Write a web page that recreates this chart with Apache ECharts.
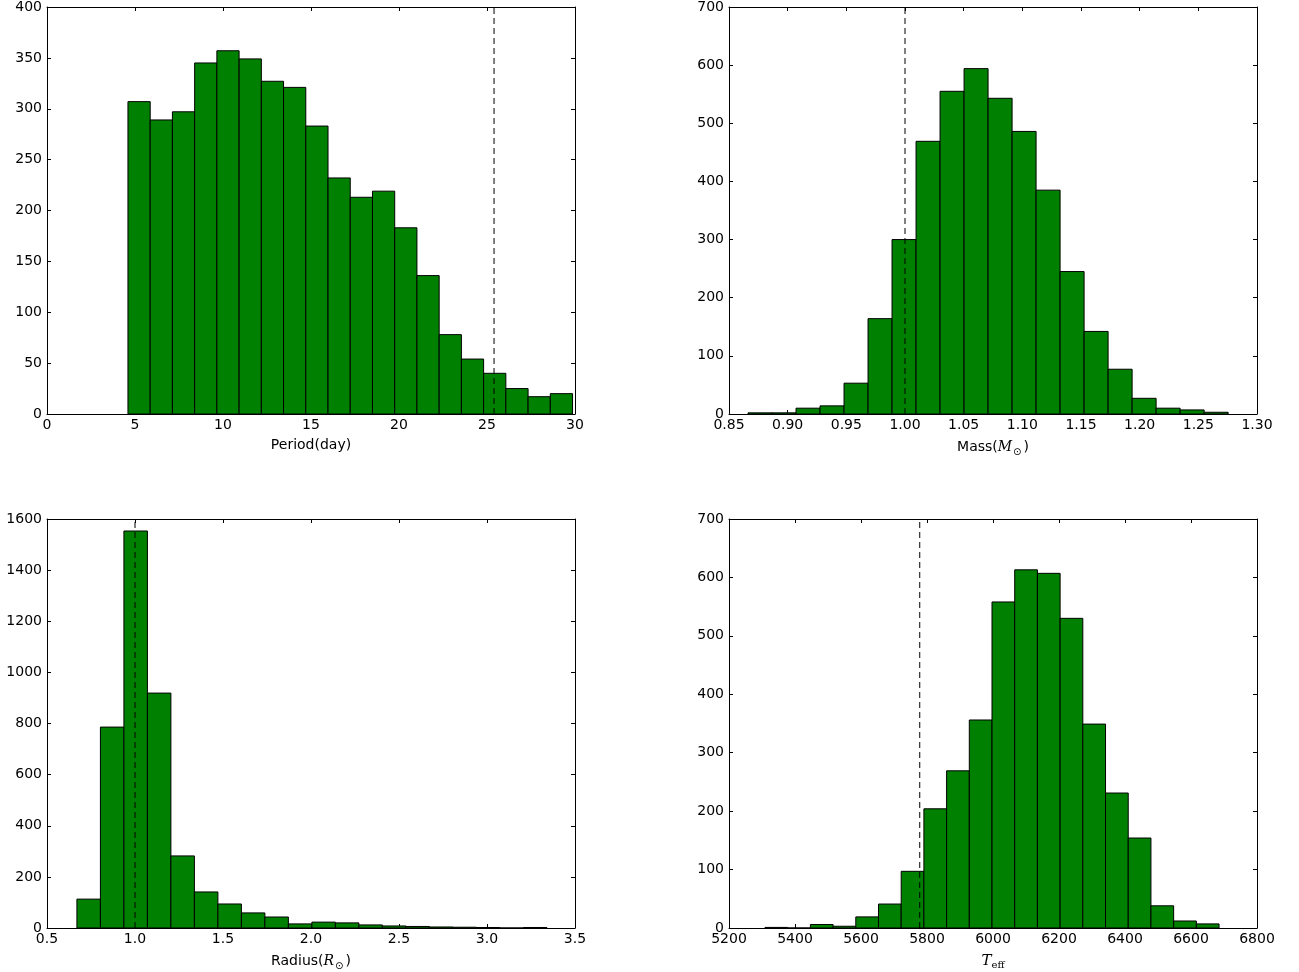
<!DOCTYPE html>
<html>
<head>
<meta charset="utf-8">
<script src="https://cdn.jsdelivr.net/npm/echarts@6/dist/echarts.min.js"></script>
<style>html,body{margin:0;padding:0;background:#fff}#c{width:1299px;height:972px}</style>
</head>
<body>
<div id="c"></div>
<script>
// ---- data ----
const periodCounts = [307,289,297,345,357,349,327,321,283,232,213,219,183,136,78,54,40,25,17,20];
const periodBinStart = 4.6, periodBinWidth = 1.263, periodRef = 25.4;
const massCounts = [2,2,10,14,53,164,300,469,555,594,543,486,385,245,142,77,27,10,7,3];
const massBinStart = 0.8662, massBinWidth = 0.02046, massRef = 1.0;
const radiusCounts = [113,786,1553,919,282,141,94,59,43,16,23,20,12,8,6,4,3,2,0,2];
const radiusBinStart = 0.67, radiusBinWidth = 0.1335, radiusRef = 1.0;
const teffCounts = [1,0,6,3,19,41,97,204,269,356,558,613,607,530,349,231,154,38,12,7];
const teffBinStart = 5309, teffBinWidth = 68.8, teffRef = 5778;

const periodTicks = {min:0, max:30, interval:5};
const massTicks = {min:0.85, max:1.30, interval:0.05};
const radiusTicks = {min:0.5, max:3.5, interval:0.5};
const teffTicks = {min:5200, max:6800, interval:200};
const yTicks = [{max:400, interval:50},{max:700, interval:100},{max:1600, interval:200},{max:700, interval:100}];

function bins(start, width, counts){
  return counts.map((c,i)=>[start+i*width, start+(i+1)*width, c]);
}
const panels = [
  {data: bins(periodBinStart, periodBinWidth, periodCounts), ref: periodRef, x: periodTicks, dec: 0,
   name: 'Period(day)'},
  {data: bins(massBinStart, massBinWidth, massCounts), ref: massRef, x: massTicks, dec: 2,
   name: 'Mass({i|M}{s|⊙})'},
  {data: bins(radiusBinStart, radiusBinWidth, radiusCounts), ref: radiusRef, x: radiusTicks, dec: 1,
   name: 'Radius({i|R}{s|⊙})'},
  {data: bins(teffBinStart, teffBinWidth, teffCounts), ref: teffRef, x: teffTicks, dec: 0,
   name: '{t|T}{e|eff}'}
];
const gridPos = [
  {left:47, top:5, width:528, height:409},
  {left:729, top:5, width:528, height:409},
  {left:47, top:519, width:528, height:409},
  {left:729, top:519, width:528, height:409}
];
const font = 'DejaVu Sans';
const axisLine = {show:true, onZero:false, lineStyle:{color:'#000', width:1}};
const tick = {show:true, inside:true, length:4, lineStyle:{color:'#000', width:1}};
const grids = [], xAxes = [], yAxes = [], series = [];
panels.forEach((p, k) => {
  grids.push(Object.assign({containLabel:false}, gridPos[k]));
  const xBase = {type:'value', gridIndex:k, min:p.x.min, max:p.x.max, interval:p.x.interval,
    splitLine:{show:false}, axisLine: axisLine, axisTick: tick};
  xAxes.push(Object.assign({}, xBase, {position:'bottom',
    axisLabel:{color:'#000', fontFamily:font, fontSize:14, margin:4,
      formatter: v => Number(v).toFixed(p.dec)},
    name: p.name, nameLocation:'middle', nameGap:24,
    nameTextStyle:{color:'#000', fontFamily:font, fontSize:14,
      rich:{
        i:{fontFamily:'DejaVu Serif', fontStyle:'italic', fontSize:14, color:'#000'},
        s:{fontFamily:font, fontSize:10, color:'#000', padding:[9,2,0,1]},
        t:{fontFamily:'DejaVu Serif', fontStyle:'italic', fontSize:15, color:'#000'},
        e:{fontFamily:'DejaVu Serif', fontSize:10, color:'#000', padding:[8,0,0,0]}
      }}
  }));
  xAxes.push(Object.assign({}, xBase, {position:'top', axisLabel:{show:false}}));
  const yBase = {type:'value', gridIndex:k, min:0, max:yTicks[k].max, interval:yTicks[k].interval,
    splitLine:{show:false}, axisLine: axisLine, axisTick: tick};
  yAxes.push(Object.assign({}, yBase, {position:'left',
    axisLabel:{color:'#000', fontFamily:font, fontSize:14, margin:5, formatter: v => String(v)}}));
  yAxes.push(Object.assign({}, yBase, {position:'right', axisLabel:{show:false}}));
  series.push({
    type:'custom', xAxisIndex:2*k, yAxisIndex:2*k, data:p.data, encode:{x:[0,1], y:2},
    clip:true,
    renderItem:(params, api) => {
      const a = api.coord([api.value(0), api.value(2)]);
      const b = api.coord([api.value(1), 0]);
      return {type:'rect', shape:{x:a[0], y:a[1], width:b[0]-a[0], height:b[1]-a[1]},
        style:{fill:'#008000', stroke:'#000', lineWidth:1}};
    }
  });
  series.push({
    type:'line', xAxisIndex:2*k, yAxisIndex:2*k, data:[[p.ref,0],[p.ref,yTicks[k].max]],
    symbol:'none', silent:true, z:5,
    lineStyle:{color:'#000', width:1, type:[6,4]}
  });
});
const chart = echarts.init(document.getElementById('c'), null, {renderer:'canvas'});
chart.setOption({animation:false, grid:grids, xAxis:xAxes, yAxis:yAxes, series:series});
</script>
</body>
</html>
